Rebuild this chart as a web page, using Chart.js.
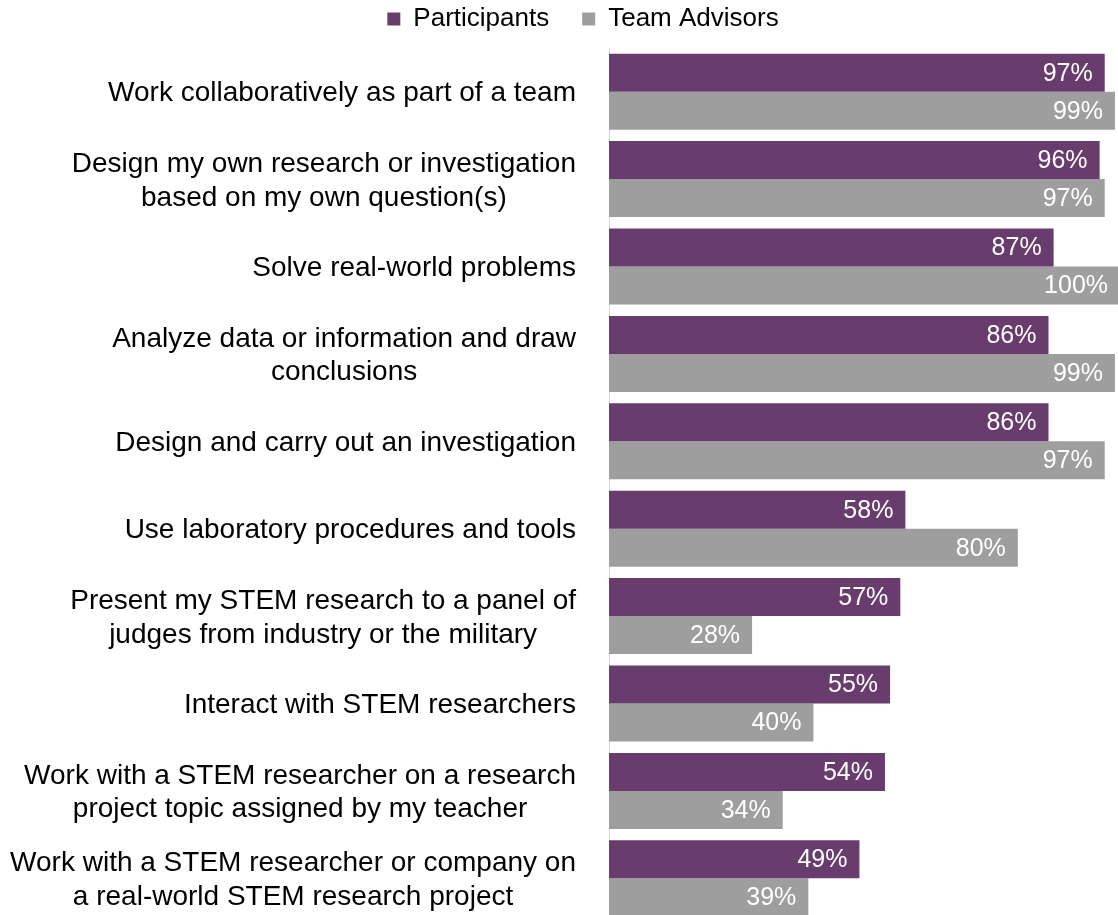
<!DOCTYPE html>
<html>
<head>
<meta charset="utf-8">
<title>STEM experiences</title>
<script src="https://cdn.jsdelivr.net/npm/chart.js@4.4.1/dist/chart.umd.min.js"></script>
<style>
  html, body { margin: 0; padding: 0; background: #fff; overflow: hidden; }
  #wrap { width: 1118px; height: 924px; }
</style>
</head>
<body>
<div id="wrap"><canvas id="skillsChart"></canvas></div>
<script>
const categories = [
    ["Work collaboratively as part of a team"],
    ["Design my own research or investigation", "based on my own question(s)"],
    ["Solve real-world problems"],
    ["Analyze data or information and draw", "conclusions"],
    ["Design and carry out an investigation"],
    ["Use laboratory procedures and tools"],
    ["Present my STEM research to a panel of", "judges from industry or the military"],
    ["Interact with STEM researchers"],
    ["Work with a STEM researcher on a research", "project topic assigned by my teacher"],
    ["Work with a STEM researcher or company on", "a real-world STEM research project"]
];
const participants = [97, 96, 87, 86, 86, 58, 57, 55, 54, 49];
const teamAdvisors = [99, 97, 100, 99, 97, 80, 28, 40, 34, 39];

const FONT = "'Liberation Sans', Arial, sans-serif";

// category labels: block right-aligned against the axis, lines centred in the block
const categoryLabels = {
    id: "categoryLabels",
    afterDraw(chart) {
        const ctx = chart.ctx;
        const yScale = chart.scales.y;
        const right = yScale.right - 33;
        const lineH = 33.6;
        ctx.save();
        ctx.font = "28px " + FONT;
        ctx.fillStyle = "#000";
        ctx.textAlign = "center";
        ctx.textBaseline = "middle";
        chart.data.labels.forEach((lines, i) => {
            const y = yScale.getPixelForTick(i) + 2;
            const maxW = Math.max(...lines.map(l => ctx.measureText(l).width));
            const cx = right - maxW / 2;
            lines.forEach((line, k) => {
                ctx.fillText(line, cx, y + (k - (lines.length - 1) / 2) * lineH);
            });
        });
        ctx.restore();
    }
};

// percentage inside the end of each bar
const barValueLabels = {
    id: "barValueLabels",
    afterDatasetsDraw(chart) {
        const ctx = chart.ctx;
        ctx.save();
        ctx.font = "25px " + FONT;
        ctx.fillStyle = "#ffffff";
        ctx.textAlign = "right";
        ctx.textBaseline = "middle";
        chart.data.datasets.forEach((ds, i) => {
            chart.getDatasetMeta(i).data.forEach((bar, j) => {
                ctx.fillText(ds.data[j] + "%", bar.x - 12, bar.y + 1);
            });
        });
        ctx.restore();
    }
};

// the wide item padding makes the legend tall; pull it back into place
const legendShift = {
    id: "legendShift",
    afterLayout(chart) {
        const lg = chart.legend;
        lg.left += 24;
        lg.right += 24;
        lg.top -= 6;
        lg.bottom -= 6;
    }
};

new Chart(document.getElementById("skillsChart"), {
    type: "bar",
    data: {
        labels: categories,
        datasets: [{
            label: "Participants",
            data: participants,
            backgroundColor: "#683c6c",
            categoryPercentage: 0.87,
            barPercentage: 1.0
        }, {
            label: "Team Advisors",
            data: teamAdvisors,
            backgroundColor: "#9e9e9e",
            categoryPercentage: 0.87,
            barPercentage: 1.0
        }]
    },
    options: {
        indexAxis: "y",
        animation: false,
        responsive: true,
        maintainAspectRatio: false,
        layout: { padding: { top: -21, bottom: 2, left: 0, right: 0 } },
        scales: {
            x: { display: false, min: 0, max: 99.6 },
            y: {
                grid: { display: false, drawTicks: false },
                border: { display: true, color: "#d9d9d9", width: 1 },
                ticks: { display: false },
                afterFit: (scale) => { scale.width = 609; }
            }
        },
        plugins: {
            legend: {
                position: "top",
                labels: {
                    boxWidth: 13,
                    boxHeight: 13,
                    padding: 33,
                    color: "#000",
                    font: { family: FONT, size: 26 }
                }
            },
            tooltip: { enabled: false }
        }
    },
    plugins: [categoryLabels, barValueLabels, legendShift]
});
</script>
</body>
</html>
